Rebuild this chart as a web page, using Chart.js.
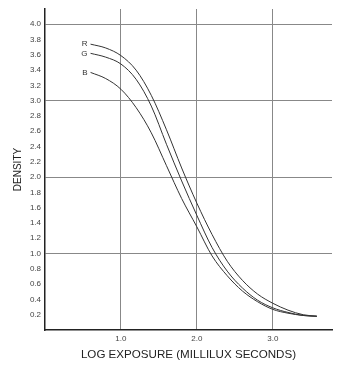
<!DOCTYPE html>
<html>
<head>
<meta charset="utf-8">
<script src="https://cdn.jsdelivr.net/npm/chart.js@4/dist/chart.umd.min.js"></script>
<style>
  html, body { margin: 0; padding: 0; background: #fff; }
  #wrap { width: 345px; height: 367px; }
</style>
</head>
<body>
<div id="wrap"><canvas id="chart" width="345" height="367"></canvas></div>
<script>
const logExposure = [0.6, 0.8, 1.0, 1.2, 1.4, 1.6, 1.8, 2.0, 2.2, 2.4, 2.6, 2.8, 3.0, 3.2, 3.4, 3.58];
const densityR = [3.74, 3.69, 3.59, 3.40, 3.07, 2.62, 2.12, 1.66, 1.25, 0.90, 0.65, 0.47, 0.35, 0.26, 0.20, 0.18];
const densityG = [3.62, 3.57, 3.48, 3.28, 2.93, 2.43, 1.95, 1.50, 1.08, 0.77, 0.55, 0.39, 0.29, 0.23, 0.19, 0.18];
const densityB = [3.37, 3.29, 3.15, 2.91, 2.58, 2.15, 1.72, 1.35, 0.97, 0.71, 0.51, 0.37, 0.27, 0.22, 0.19, 0.18];
const seriesNames = ['R', 'G', 'B'];

const isWhole = v => Math.abs(v - Math.round(v)) < 1e-6;

// letters R / G / B just left of where each curve starts
const curveLabels = {
  id: 'curveLabels',
  afterDatasetsDraw(chart) {
    const ctx = chart.ctx;
    ctx.save();
    ctx.font = '8px "Liberation Sans", Arial, sans-serif';
    ctx.fillStyle = '#333';
    ctx.textAlign = 'right';
    ctx.textBaseline = 'middle';
    chart.data.datasets.forEach((ds, i) => {
      const pt = chart.getDatasetMeta(i).data[0];
      ctx.fillText(ds.label, pt.x - 3, pt.y);
    });
    ctx.restore();
  },
};

const datasets = [densityR, densityG, densityB].map((ys, i) => ({
  label: seriesNames[i],
  data: ys.map((y, j) => ({ x: logExposure[j], y })),
  borderColor: '#333',
  borderWidth: 1,
  pointRadius: 0,
  fill: false,
  cubicInterpolationMode: 'monotone',
}));

new Chart(document.getElementById('chart').getContext('2d'), {
  type: 'line',
  data: { datasets },
  plugins: [curveLabels],
  options: {
    responsive: false,
    animation: false,
    layout: { padding: { top: 9, right: 13, left: 0, bottom: 0 } },
    plugins: {
      legend: { display: false },
      tooltip: { enabled: false },
    },
    scales: {
      x: {
        type: 'linear',
        min: 0,
        max: 3.78,
        afterFit: s => { s.height = 37; },
        ticks: {
          stepSize: 1,
          padding: 4,
          color: '#444',
          font: { family: '"Liberation Sans", Arial, sans-serif', size: 8 },
          callback: v => (v > 0 && isWhole(v) ? v.toFixed(1) : ''),
        },
        grid: {
          drawTicks: false,
          lineWidth: 1,
          color: c => (c.tick && c.tick.value > 0 && isWhole(c.tick.value) ? '#888' : 'rgba(0,0,0,0)'),
        },
        border: { color: '#222', width: 1.5 },
        title: {
          display: true,
          text: 'LOG EXPOSURE (MILLILUX SECONDS)',
          color: '#222',
          font: { family: '"Liberation Sans", Arial, sans-serif', size: 11.6 },
          padding: { top: 0, bottom: 5 },
        },
      },
      y: {
        min: 0,
        max: 4.2,
        afterFit: s => { s.width = 45; },
        ticks: {
          stepSize: 0.2,
          padding: 4,
          color: '#444',
          font: { family: '"Liberation Sans", Arial, sans-serif', size: 8 },
          callback: v => (v > 0.1 && v < 4.1 ? v.toFixed(1) : ''),
        },
        grid: {
          drawTicks: false,
          lineWidth: 1,
          color: c => (c.tick && c.tick.value > 0 && isWhole(c.tick.value) ? '#888' : 'rgba(0,0,0,0)'),
        },
        border: { color: '#222', width: 1.5 },
        title: {
          display: true,
          text: 'DENSITY',
          color: '#222',
          font: { family: '"Liberation Sans", Arial, sans-serif', size: 10 },
          padding: { top: 12, bottom: 0 },
        },
      },
    },
  },
});
</script>
</body>
</html>
